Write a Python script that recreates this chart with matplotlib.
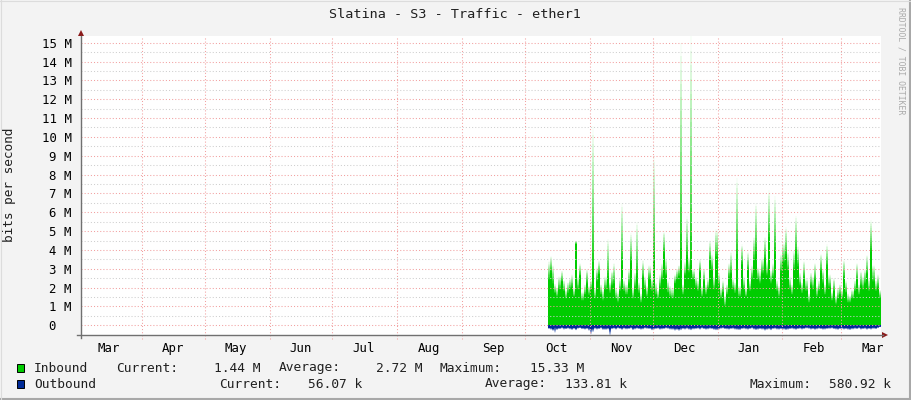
import datetime as dt
import numpy as np
import matplotlib
matplotlib.use("Agg")
import matplotlib.pyplot as plt
import matplotlib.dates as mdates
from matplotlib.colors import to_rgb
from matplotlib.patches import Rectangle, Polygon
from matplotlib.lines import Line2D

# ---------------- data ----------------
title = "Slatina - S3 - Traffic - ether1"
y_label = "bits per second"
watermark = "RRDTOOL / TOBI OETIKER"

view_start = dt.datetime(2012, 3, 2, 21, 36)
view_days = 382.2
data_start = dt.datetime(2012, 10, 12)

month_names = ["Mar", "Apr", "May", "Jun", "Jul", "Aug", "Sep",
               "Oct", "Nov", "Dec", "Jan", "Feb", "Mar"]
month_years = [2012] * 10 + [2013] * 3
month_nums = [3, 4, 5, 6, 7, 8, 9, 10, 11, 12, 1, 2, 3]

y_ticks = list(range(0, 16))
y_tick_labels = ["0  "] + [f"{v} M" for v in range(1, 16)]

# inbound, Mbit/s: daily average (solid) and daily peak (faded top)
in_avg = [
    2.4, 2.8, 2.2, 1.7, 1.5, 1.9, 2.3, 1.8, 1.4, 1.7,
    1.9, 2.0, 1.5, 4.3, 1.9, 2.6, 1.3, 1.6, 2.2, 1.6,
    1.9, 2.9, 1.4, 2.3, 2.7, 1.6, 1.3, 1.9, 2.5, 1.7,
    2.1, 2.2, 1.4, 1.2, 1.8, 3.2, 1.8, 1.6, 2.2, 3.3,
    1.4, 2.0, 2.6, 1.7, 1.2, 2.5, 1.9, 1.5, 2.4, 1.8,
    3.4, 1.6, 1.4, 2.0, 2.4, 3.8, 2.6, 1.7, 1.5, 1.4,
    2.2, 2.4, 2.6, 3.4, 1.6, 2.6, 3.6, 2.8, 3.2, 2.4,
    2.0, 1.8, 2.8, 1.5, 2.3, 1.6, 1.9, 3.4, 2.9, 1.9,
    3.6, 2.1, 1.4, 1.7, 1.0, 1.6, 2.5, 2.7, 1.9, 1.7,
    3.5, 1.5, 3.2, 1.9, 1.5, 2.9, 1.8, 2.4, 3.4, 3.8,
    2.4, 2.2, 2.7, 3.5, 2.6, 4.5, 2.2, 2.5, 3.8, 1.8,
    1.5, 2.8, 3.3, 3.7, 2.9, 1.9, 1.6, 2.9, 3.8, 3.1,
    2.1, 1.7, 2.5, 1.8, 1.2, 2.1, 1.9, 2.4, 1.5, 1.8,
    2.8, 2.2, 1.6, 3.1, 2.0, 1.3, 1.8, 1.1, 1.4, 1.6,
    1.4, 2.5, 1.7, 1.2, 1.2, 1.4, 1.8, 2.4, 1.6, 2.1,
    1.9, 2.2, 2.7, 1.8, 3.9, 2.3, 1.8, 2.0, 1.44,
]
in_max = [
    3.4, 3.7, 3.2, 2.2, 2.0, 2.6, 2.9, 2.4, 1.9, 2.3,
    2.5, 2.7, 2.0, 4.5, 2.6, 3.3, 1.8, 2.2, 3.0, 2.1,
    2.4, 10.6, 2.0, 3.1, 3.45, 2.2, 1.9, 2.6, 4.6, 2.3,
    2.9, 3.3, 2.0, 1.8, 2.5, 6.5, 2.4, 2.2, 3.0, 4.9,
    2.0, 2.8, 5.5, 2.3, 1.7, 3.45, 2.6, 2.1, 3.2, 2.5,
    9.0, 2.3, 1.9, 2.7, 3.3, 5.0, 3.6, 2.4, 2.1, 2.0,
    2.7, 3.0, 3.2, 15.0, 2.2, 3.4, 5.8, 3.6, 15.33, 3.0,
    2.6, 2.4, 3.5, 2.1, 3.0, 2.2, 2.5, 4.5, 3.8, 2.6,
    5.1, 2.8, 2.0, 2.4, 1.6, 2.2, 3.3, 3.9, 2.5, 2.3,
    7.8, 2.1, 4.3, 2.6, 2.0, 3.9, 2.4, 3.2, 4.7, 6.5,
    3.1, 2.9, 3.6, 4.7, 3.4, 7.2, 2.9, 3.3, 6.85, 2.4,
    2.1, 3.8, 4.4, 5.2, 3.9, 2.6, 2.2, 4.0, 5.8, 4.2,
    2.8, 2.3, 3.4, 2.5, 1.7, 2.8, 2.6, 3.3, 2.1, 2.4,
    3.8, 3.0, 2.2, 4.3, 2.7, 1.8, 2.5, 1.6, 2.0, 2.2,
    1.9, 3.5, 2.4, 1.7, 1.6, 1.9, 2.4, 3.3, 2.2, 2.9,
    2.6, 3.0, 3.75, 2.5, 5.6, 3.2, 2.4, 2.7, 1.9,
]
# outbound, kbit/s (drawn below zero)
out_avg = [
    120, 140, 180, 110, 150, 130, 100, 120, 140, 110,
    130, 150, 120, 160, 110, 100, 130, 140, 120, 150,
    170, 160, 110, 130, 120, 100, 140, 150, 130, 180,
    120, 110, 130, 100, 120, 140, 110, 130, 120, 100,
    150, 130, 110, 120, 140, 130, 100, 110, 120, 150,
    130, 120, 110, 140, 130, 120, 100, 110, 130, 140,
    160, 150, 170, 140, 120, 130, 110, 140, 150, 130,
    120, 110, 130, 100, 120, 140, 130, 110, 120, 140,
    150, 130, 110, 100, 120, 130, 140, 120, 110, 130,
    140, 150, 120, 110, 130, 140, 120, 100, 130, 150,
    140, 120, 130, 160, 140, 130, 150, 120, 110, 130,
    140, 120, 130, 150, 140, 120, 110, 130, 140, 120,
    110, 130, 120, 100, 110, 130, 120, 140, 130, 110,
    120, 140, 130, 120, 110, 100, 120, 130, 140, 120,
    110, 130, 120, 140, 150, 130, 110, 120, 100, 130,
    120, 110, 140, 120, 130, 110, 120, 90, 56,
]
out_max = [
    200, 250, 300, 420, 260, 220, 180, 240, 210, 190,
    230, 260, 200, 280, 190, 170, 220, 240, 210, 300,
    500, 380, 200, 240, 220, 180, 260, 250, 230, 581,
    220, 190, 240, 180, 200, 260, 190, 230, 210, 180,
    270, 230, 190, 220, 250, 230, 180, 200, 210, 280,
    240, 210, 190, 250, 230, 210, 180, 200, 240, 250,
    300, 260, 310, 280, 210, 240, 200, 250, 280, 230,
    210, 190, 240, 180, 220, 250, 230, 200, 210, 260,
    280, 230, 200, 180, 220, 230, 250, 210, 200, 240,
    260, 270, 210, 200, 230, 250, 210, 180, 240, 270,
    250, 220, 240, 300, 260, 230, 280, 210, 200, 240,
    250, 220, 240, 270, 250, 220, 200, 230, 260, 220,
    200, 240, 210, 180, 200, 240, 220, 260, 230, 200,
    220, 250, 240, 210, 200, 180, 220, 240, 260, 210,
    200, 240, 220, 250, 270, 230, 200, 220, 180, 240,
    220, 200, 250, 210, 240, 200, 220, 170, 120,
]

legend_in = ["Inbound", "Current:", "1.44 M", "Average:", "2.72 M", "Maximum:", "15.33 M"]
legend_out = ["Outbound", "Current:", "56.07 k", "Average:", "133.81 k", "Maximum:", "580.92 k"]

# ---------------- styling ----------------
W, H = 911, 400
BG = "#F3F3F3"
GREEN = "#00CC00"
BLUE = "#002A97"
MONO = "DejaVu Sans Mono"


def fx(px):
    return px / W


def fy(py):
    return 1 - py / H


fig = plt.figure(figsize=(W / 100, H / 100), dpi=100, facecolor=BG)
ax = fig.add_axes([fx(81), fy(335), 800 / W, (335 - 36) / H])
ax.set_facecolor("white")
for s in ax.spines.values():
    s.set_visible(False)

x_left = mdates.date2num(view_start)
ax.set_xlim(x_left, x_left + view_days)
ax.set_ylim(-0.515, 15.355)

n = len(in_avg)
xd = mdates.date2num(data_start) + np.arange(n)
xe = np.append(xd, xd[-1] + 1)


def ext(a):
    a = np.asarray(a, dtype=float)
    return np.append(a, a[-1])


def gradient(base, top, color, nsl=16):
    base = ext(base)
    top = ext(top)
    rgb = np.array(to_rgb(color))
    for k in range(nsl):
        lo = base + (top - base) * k / nsl
        hi = base + (top - base) * (k + 1) / nsl
        t = ((k + 0.5) / nsl) ** 0.9
        c = rgb * (1 - t) + t
        ax.fill_between(xe, lo, hi, step="post", color=c, linewidth=0, zorder=2)


in_a = np.array(in_avg)
in_m = np.array(in_max)
out_a = -np.array(out_avg) / 1000.0
out_m = -np.array(out_max) / 1000.0

ax.fill_between(xe, 0, ext(in_a), step="post", color=GREEN, linewidth=0, zorder=2)
gradient(in_a, in_m, GREEN)
ax.fill_between(xe, 0, ext(out_a), step="post", color=BLUE, linewidth=0, zorder=2)
gradient(out_a, out_m, BLUE)

# grid (drawn over the data, as rrdtool does)
for v in np.arange(0.5, 15.5, 0.5):
    if abs(v - round(v)) > 1e-6:
        ax.axhline(v, color="#CFCFCF", lw=0.75, ls=(0, (1, 2)), zorder=3)
for v in range(0, 16):
    ax.axhline(v, color="#F2A0A0", lw=0.75, ls=(0, (1, 2)), zorder=4)
for yr, mo in [(2012, m) for m in range(4, 13)] + [(2013, 1), (2013, 2), (2013, 3)]:
    ax.axvline(mdates.date2num(dt.datetime(yr, mo, 1)), ymin=-0.012, ymax=1,
               color="#F2A0A0", lw=0.75, ls=(0, (1, 2)), zorder=4, clip_on=False)

# ticks
mid = [mdates.date2num(dt.datetime(y, m, 16)) for y, m in zip(month_years, month_nums)]
ax.set_xticks(mid)
ax.set_xticklabels(month_names, family=MONO, fontsize=8.9)
ax.set_yticks(y_ticks)
ax.set_yticklabels(y_tick_labels, family=MONO, fontsize=8.9)
ax.tick_params(axis="x", length=0, pad=5)
ax.tick_params(axis="y", length=0, pad=6.5)

# axis lines + arrows
fig.add_artist(Line2D([fx(81), fx(81)], [fy(338), fy(36)], color="#707070", lw=1.0))
fig.add_artist(Line2D([fx(77), fx(883)], [fy(335), fy(335)], color="#707070", lw=1.0))
fig.add_artist(Polygon([[fx(78), fy(36)], [fx(84), fy(36)], [fx(81), fy(30)]],
                       closed=True, color="#8B1A1A", lw=0))
fig.add_artist(Polygon([[fx(882), fy(332)], [fx(882), fy(338)], [fx(888), fy(335)]],
                       closed=True, color="#8B1A1A", lw=0))

# texts
fig.text(fx(455), fy(15), title, ha="center", va="center", family=MONO, fontsize=9.7, color="#202020")
fig.text(fx(10), fy(185), y_label, ha="center", va="center", rotation=90,
         family=MONO, fontsize=9.2, color="#202020")
fig.text(fx(901), fy(7), watermark, ha="center", va="top", rotation=270,
         family=MONO, fontsize=5.9, color="#AAAAAA")

# legend
fig.add_artist(Rectangle((fx(17), fy(372)), 7 / W, 8 / H, facecolor=GREEN, edgecolor="black", lw=0.7))
fig.add_artist(Rectangle((fx(17), fy(388)), 7 / W, 8 / H, facecolor=BLUE, edgecolor="black", lw=0.7))

in_pos = [(34, "left"), (116, "left"), (260, "right"), (279, "left"), (422, "right"),
          (440, "left"), (584, "right")]
out_pos = [(34, "left"), (219, "left"), (362, "right"), (485, "left"), (627, "right"),
           (749, "left"), (891, "right")]
for txt, (px, ha) in zip(legend_in, in_pos):
    fig.text(fx(px), fy(368), txt, ha=ha, va="center", family=MONO, fontsize=9.3, color="#202020")
for txt, (px, ha) in zip(legend_out, out_pos):
    fig.text(fx(px), fy(384), txt, ha=ha, va="center", family=MONO, fontsize=9.3, color="#202020")

# frame shading
fig.add_artist(Line2D([fx(910), fx(910)], [0, 1], color="#A8A8A8", lw=1.5))
fig.add_artist(Line2D([0, 1], [fy(399), fy(399)], color="#A8A8A8", lw=1.5))
fig.add_artist(Line2D([fx(0.5), fx(0.5)], [0, 1], color="#DCDCDC", lw=0.8))
fig.add_artist(Line2D([0, 1], [fy(0.5), fy(0.5)], color="#DCDCDC", lw=0.8))

fig.savefig("out.png", dpi=100, facecolor=BG)
